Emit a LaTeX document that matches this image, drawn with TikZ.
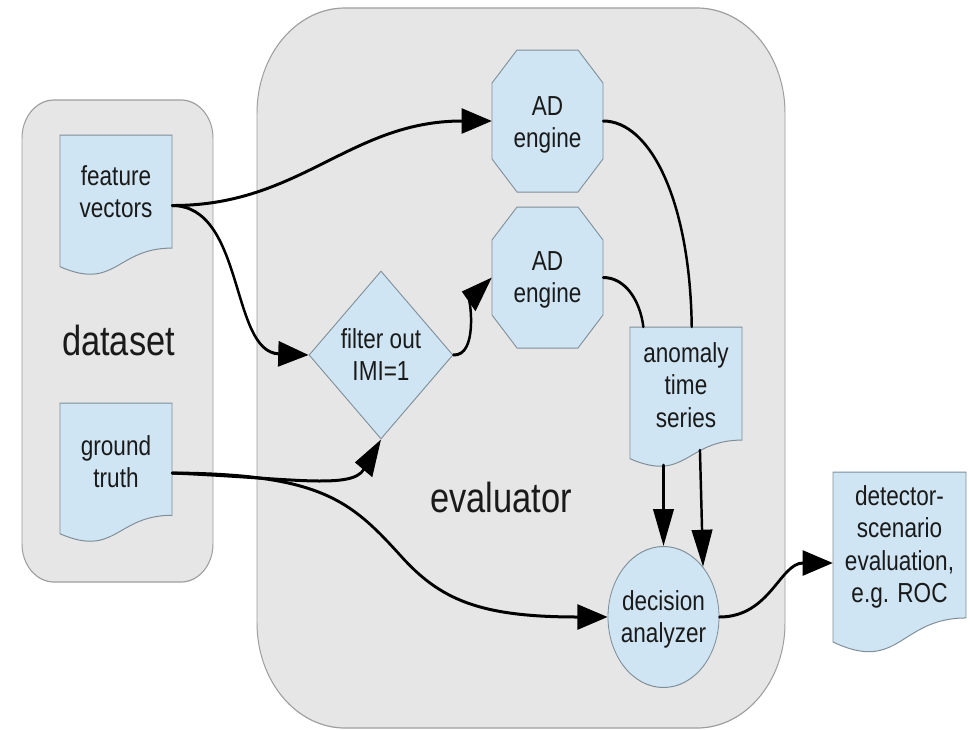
\documentclass[tikz,border=0pt]{standalone}
\usepackage{fontspec}
\setmainfont{Liberation Sans}
\usetikzlibrary{arrows.meta,shapes.geometric,calc}
\definecolor{boxgray}{HTML}{E6E6E6}
\definecolor{boxedge}{HTML}{9E9E9E}
\definecolor{docblue}{HTML}{CFE5F3}
\definecolor{docedge}{HTML}{7F8E99}
\definecolor{inkc}{HTML}{1A1A1A}
\def\xu{1.21951}
\newcommand\mytext[2]{\makebox[0pt]{\raisebox{#1}[0pt][0pt]{\begin{tabular}[t]{@{}c@{}}#2\end{tabular}}}}
% rounded container: L T R B rx ry
\newcommand\rbox[6]{%
 \draw[container] ({#1+#5},#2) -- ({#3-#5},#2)
  .. controls ({#3-0.4477*#5},#2) and (#3,{#2+0.4477*#6}) .. (#3,{#2+#6})
  -- (#3,{#4-#6})
  .. controls (#3,{#4-0.4477*#6}) and ({#3-0.4477*#5},#4) .. ({#3-#5},#4)
  -- ({#1+#5},#4)
  .. controls ({#1+0.4477*#5},#4) and (#1,{#4-0.4477*#6}) .. (#1,{#4-#6})
  -- (#1,{#2+#6})
  .. controls (#1,{#2+0.4477*#6}) and ({#1+0.4477*#5},#2) .. ({#1+#5},#2) -- cycle;}
% document shape: name L T R H raise text
\newcommand\docnode[7]{%
 \draw[shapeline] (#2,#3) -- (#4,#3) -- (#4,{#3+0.802*#5})
  .. controls ({(#2+#4)/2},{#3+0.802*#5}) and ({(#2+#4)/2},{#3+1.1075*#5}) .. (#2,{#3+0.934*#5}) -- cycle;
 \node[txt, minimum width={(#4-#2)*\xu*1pt}, minimum height={#5*1pt}] (#1) at ({(#2+#4)/2},{#3+#5/2}) {\mytext{#6}{#7}};}
% octagon: name L T R B raise text
\newcommand\octnode[7]{%
 \draw[shapeline] ({#2+25},#3) -- ({#4-25},#3) -- (#4,{#3+33}) -- (#4,{#5-33}) -- ({#4-25},#5) -- ({#2+25},#5) -- (#2,{#5-33}) -- (#2,{#3+33}) -- cycle;
 \node[txt, minimum width={(#4-#2)*\xu*1pt}, minimum height={(#5-#3)*1pt}] (#1) at ({(#2+#4)/2},{(#3+#5)/2}) {\mytext{#6}{#7}};}
\tikzset{
 container/.style={draw=boxedge, fill=boxgray, line width=1.2pt},
 shapeline/.style={draw=docedge, fill=docblue, line width=1pt},
 txt/.style={inner sep=0pt, text=inkc, font=\fontsize{27.5}{32.5}\selectfont},
 big/.style={inner sep=0pt, text=inkc, font=\fontsize{42}{48}\selectfont},
 flow/.style={draw=black, line width=3pt, line cap=round, -{Triangle[length=37pt,width=25pt]}},
 link/.style={draw=black, line width=3pt, line cap=round}
}
\begin{document}
\begin{tikzpicture}
\path[use as bounding box, fill=white] (0pt,0pt) rectangle (970pt,-729pt);
\begin{scope}[x=\xu pt, y=-1pt, transform canvas={xscale=0.82}]
 % containers
 \rbox{22}{100}{213}{582}{32}{38}
 \rbox{257}{8}{785}{728}{88}{105}
 \node[big] (dslabel) at (118.5,340) {dataset};
 \node[big] (evlabel) at (501,497) {evaluator};
 % documents
 \docnode{fv}{60}{135}{172}{141}{20.5pt}{feature\\vectors}
 \docnode{gt}{60}{403}{172}{140}{18pt}{ground\\truth}
 \docnode{an}{630}{327}{742}{141}{35.5pt}{anomaly\\time\\series}
 \docnode{det}{833}{472}{966}{182}{58pt}{detector-\\scenario\\evaluation,\\e.g. ROC}
 % engines
 \octnode{ad1}{492}{50}{603}{192}{6pt}{AD\\engine}
 \octnode{ad2}{492}{207}{603}{348}{7.5pt}{AD\\engine}
 % filter and analyzer
 \node[shapeline, txt, shape=diamond, minimum width={144*\xu*1pt}, minimum height=168pt] (dia) at (381,355) {\mytext{7pt}{filter out\\IMI=1}};
 \node[shapeline, txt, shape=ellipse, minimum width={111*\xu*1pt}, minimum height=141pt] (da) at (663.5,617) {\mytext{7pt}{decision\\analyzer}};
 % connectors
 \draw[flow] (fv.east) .. controls (300,206) and (350,121) .. (ad1.west);
 \draw[flow] (fv.east) .. controls (245,206) and (230,352) .. (dia.west);
 \draw[flow] (dia.east) .. controls (478,356) and (470,300) .. (ad2.west);
 \draw[flow] (gt.east) .. controls (290,478) and (352,490) .. (dia.south);
 \draw[flow] (gt.east) .. controls (320,474) and (350,500) .. (400,555) .. controls (440,600) and (480,617) .. (da.west);
 \draw[link] (ad1.east) .. controls (650,121) and (690,200) .. ([xshift=7pt]an.north);
 \draw[link] (ad2.east) .. controls (625,277.5) and (640,300) .. ([xshift=-52pt]an.north);
 \draw[flow] ($(da.north |- an.south)+(0,-3)$) -- (da.north);
 \draw[flow] ([xshift=17pt,yshift=18pt]an.south) -- (da.north east);
 \draw[flow] (da.east) .. controls (770,617) and (780,563) .. (det.west);
\end{scope}
\end{tikzpicture}
\end{document}
